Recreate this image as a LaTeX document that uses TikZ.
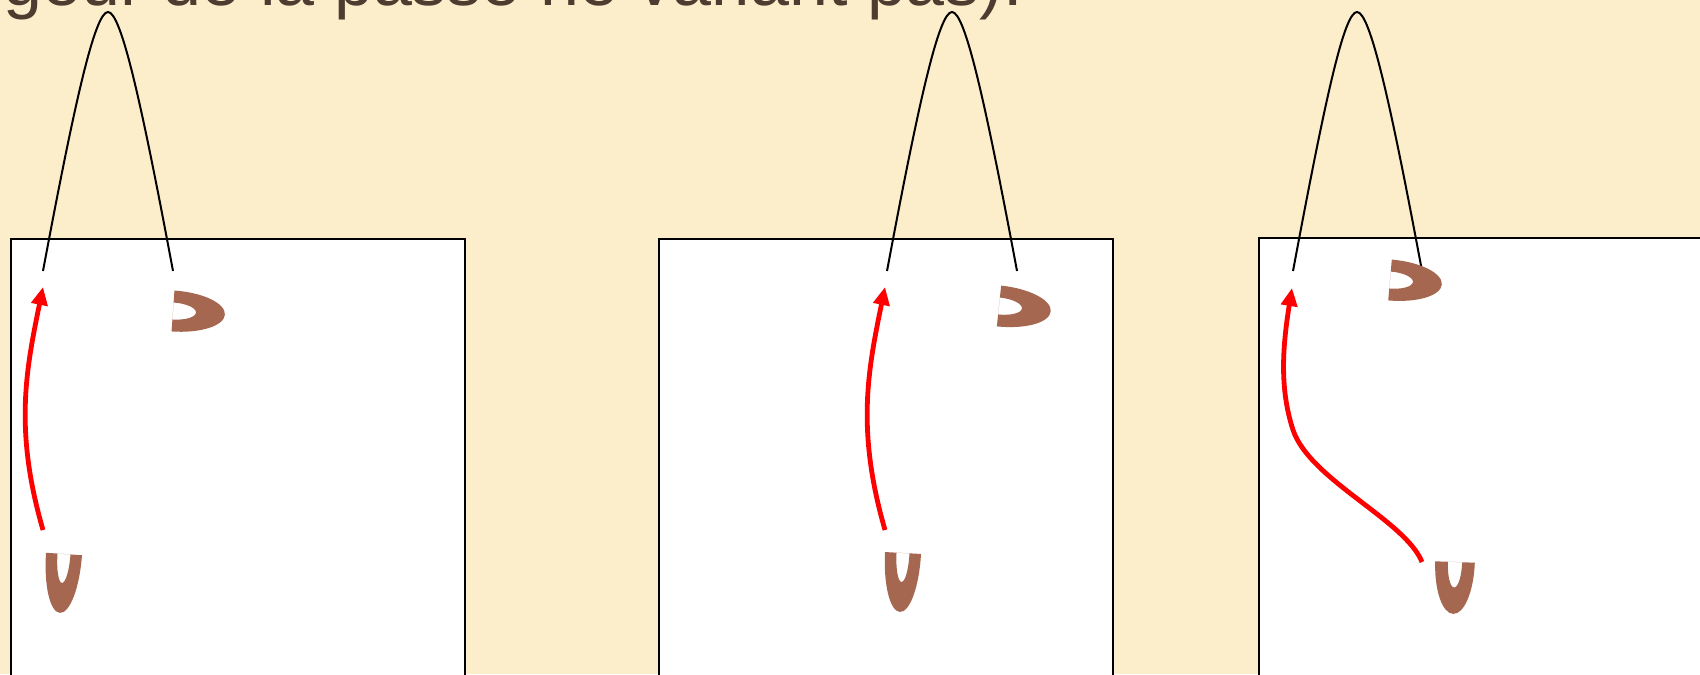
\documentclass[tikz,border=0pt]{standalone}
\usepackage{fontspec}
\setmainfont{Liberation Sans}
\usetikzlibrary{arrows.meta, positioning}

\definecolor{fondcreme}{RGB}{252,237,203}
\definecolor{brique}{RGB}{165,103,80}
\definecolor{brunfonce}{RGB}{77,60,48}

\begin{document}
\begin{tikzpicture}[
  x=0.5pt, y=-0.5pt,
  cadre/.style={draw=black, fill=white, line width=1.3pt},
  fil/.style={draw=black, line width=1pt},
  fleche/.style={draw=red, line width=2.4pt, -{Triangle[length=9pt, width=8pt]}},
  coupeH/.pic={
    \fill[brique, even odd rule]
      (0,-20.5) arc[start angle=-90, end angle=90, x radius=52, y radius=20.5] -- cycle
      (0,-8.5) arc[start angle=-90, end angle=90, x radius=23, y radius=8.5] -- cycle;
  },
  coupeV/.pic={
    \fill[brique, even odd rule]
      (-18,0) arc[start angle=180, end angle=0, x radius=18, y radius=59] -- cycle
      (-6.5,0) arc[start angle=180, end angle=0, x radius=6.5, y radius=29] -- cycle;
  }
]

  % Fond et cadre de la page
  \useasboundingbox (0,0) rectangle (1700,674);
  \clip (0,0) rectangle (1700,674);
  \fill[fondcreme] (0,0) rectangle (1700,674);

  % Texte coupé en haut
  \node[anchor=base west, inner sep=0pt, text=brunfonce,
        font=\fontsize{35}{42}\selectfont] (legende) at (3,6) {geur de la passe ne variant pas).};

  % Les trois cadres blancs
  \draw[cadre] (11,239) rectangle (465,720);
  \draw[cadre] (659,239) rectangle (1113,720);
  \draw[cadre] (1259,238) rectangle (1760,720);

  % Points des fils
  \coordinate (g1) at (43,271);   \coordinate (s1) at (108,12);   \coordinate (d1) at (173,271);
  \coordinate (g2) at (887,271);  \coordinate (s2) at (952,12);   \coordinate (d2) at (1017,271);
  \coordinate (g3) at (1293,271); \coordinate (s3) at (1357,12);  \coordinate (d3) at (1422,271);

  % Fils noirs
  \foreach \i in {1,2,3}
    \draw[fil] (g\i) .. controls +(32,-171) and +(-13,0) .. (s\i)
                     .. controls +(13,0) and +(-32,-171) .. (d\i);

  % Flèches rouges
  \coordinate (pied1) at (43,530);    \coordinate (pointe1) at (43,287);
  \coordinate (pied2) at (885,530);   \coordinate (pointe2) at (885,287);
  \coordinate (pied3) at (1422,562);  \coordinate (coude3) at (1293,430);
  \coordinate (pointe3) at (1292,288);

  \draw[fleche] (pied1) .. controls +(-29,-100) and +(-17,83) .. (pointe1);
  \draw[fleche] (pied2) .. controls +(-29,-100) and +(-17,83) .. (pointe2);
  \draw[fleche] (pied3) .. controls +(-17,-42) and +(17,50) .. (coude3)
                        .. controls +(-13,-40) and +(-10,62) .. (pointe3);

  % Coupelles
  \pic[rotate=-4] (coupeh1) at (173,311) {coupeH};
  \pic[rotate=-6] (coupeh2) at (999,306) {coupeH};
  \pic[rotate=-5] (coupeh3) at (1390,280) {coupeH};
  \pic[rotate=-4] (coupev1) at (64,554) {coupeV};
  \pic[rotate=-3] (coupev2) at (903,553) {coupeV};
  \pic[rotate=-2, xscale=1.1, yscale=0.88] (coupev3) at (1455,562) {coupeV};

\end{tikzpicture}
\end{document}
